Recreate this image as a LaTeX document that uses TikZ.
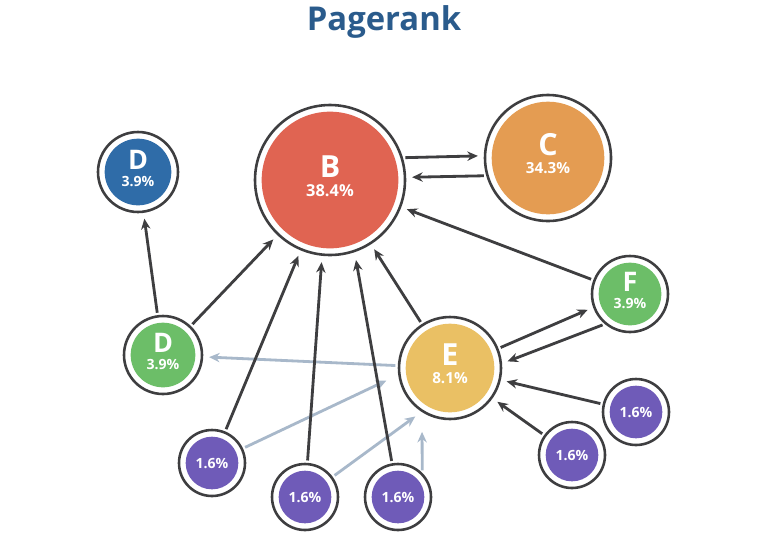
\documentclass[tikz,border=0pt]{standalone}
\usepackage{fontspec}
\setmainfont{Open Sans}
\usetikzlibrary{arrows.meta}
\definecolor{dk}{HTML}{3E3E40}
\definecolor{lb}{HTML}{A8B8CA}
\definecolor{cB}{HTML}{E06452}
\definecolor{cC}{HTML}{E49C52}
\definecolor{cD}{HTML}{2F6CA8}
\definecolor{cG}{HTML}{6CBE68}
\definecolor{cE}{HTML}{EAC064}
\definecolor{cP}{HTML}{6F5BB8}
\definecolor{tt}{HTML}{2A5B8C}
\begin{document}
\begin{tikzpicture}[x=0.03cm,y=-0.03cm,
 ar/.style={-{Stealth[length=9pt,width=8pt]},line width=2.4pt,dk,shorten >=5pt,shorten <=2pt},
 la/.style={ar,lb},
 outer/.style={circle,draw=dk,line width=2.2pt,fill=white,inner sep=0pt},
 inner/.style={circle,inner sep=0pt},
 lbl/.style={text=white,font=\bfseries,inner sep=0pt}]
\useasboundingbox (0,0) rectangle (768,548);
\node[font=\bfseries\fontsize{28}{30}\selectfont,text=tt] (title) at (384,22) {Pagerank};
\newcommand{\cc}[8]{%
 \node[outer,minimum size=#3*0.06cm] (#1) at (#2) {};
 \node[inner,fill=#4,minimum size=#3*0.06cm-0.4cm] (#1i) at (#2) {};
 \node[lbl,font=\bfseries\fontsize{#6}{#6}\selectfont,anchor=base] (#1t) at ([yshift=2.5pt]#1.center) {#5};
 \node[lbl,font=\bfseries\fontsize{#8}{#8}\selectfont,anchor=north] (#1p) at ([yshift=-3.5pt]#1.center) {#7};}
\newcommand{\pp}[2]{%
 \node[outer,minimum size=1.98cm] (#1) at (#2) {};
 \node[inner,fill=cP,minimum size=1.58cm] (#1i) at (#2) {};
 \node[lbl,font=\bfseries\fontsize{12}{12}\selectfont] (#1p) at (#2) {1.6\%};}
\cc{B}{330,180}{75}{cB}{B}{26}{38.4\%}{14}
\cc{C}{548,158}{63}{cC}{C}{26}{34.3\%}{13}
\cc{D1}{138,172}{40}{cD}{D}{23}{3.9\%}{12}
\cc{D2}{163,355}{39}{cG}{D}{23}{3.9\%}{12}
\cc{E}{450,368}{51}{cE}{E}{26}{8.1\%}{13}
\cc{F}{630,294}{38}{cG}{F}{23}{3.9\%}{12}
\pp{P1}{212,463}
\pp{P2}{305,497}
\pp{P3}{398,497}
\pp{P4}{572,455}
\pp{P5}{636,412}
% light edges
\draw[la] (E) -- (D2);
\draw[la] (P1) -- ([shift={(-6,10)}]E.west);
\draw[la] (P2) -- ([shift={(-30,45)}]E.center);
\draw[la] (P3.north east) -- ([shift={(-28,58)}]E.center);
% dark edges
\draw[ar] (D2) -- (D1);
\draw[ar] (D2) -- (B);
\draw[ar] (P1) -- (B);
\draw[ar] (P2) -- ([shift={(-8,0)}]B.south);
\draw[ar] (P3) -- ([shift={(25,-2)}]B.south);
\draw[ar] (E) -- (B);
\draw[ar] (F) -- (B);
\draw[ar] (B.17) -- (C.178);
\draw[ar] (C.196) -- (B.2);
\draw[ar] (E.22) -- (F.200);
\draw[ar] (F.230) -- (E.5);
\draw[ar] (P4) -- (E);
\draw[ar] (P5) -- (E);
\end{tikzpicture}
\end{document}
